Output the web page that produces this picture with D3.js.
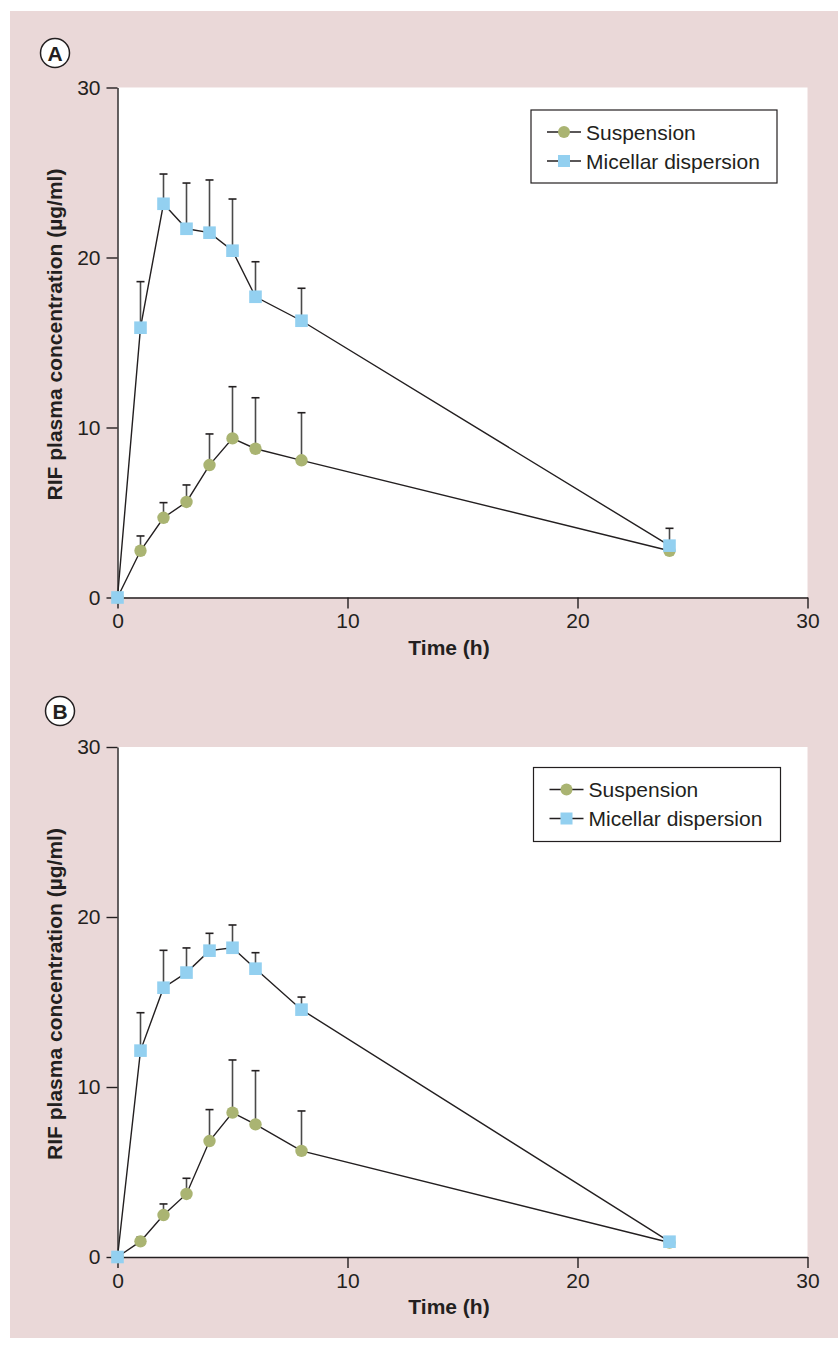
<!DOCTYPE html>
<html lang="en">
<head>
    <meta charset="UTF-8">
    <script src="https://d3js.org/d3.v7.min.js"></script>
    <title>RIF plasma concentration</title>
    <style>
        body {
            margin: 0;
            background: #ffffff;
            font-family: 'Liberation Sans', Arial, sans-serif;
        }
        text {
            fill: #231f20;
        }
        .tick text {
            font-size: 21px;
        }
        .axis-title {
            font-size: 21px;
            font-weight: bold;
        }
        .legend text {
            font-size: 21px;
        }
    </style>
</head>
<body>
    <svg width="838" height="1348"></svg>
    <script>
        // Data (mean and upper error, µg/ml)
        const times = [0, 1, 2, 3, 4, 5, 6, 8, 24];
        const seriesNames = ["Suspension", "Micellar dispersion"];
        const xTicks = [0, 10, 20, 30];
        const yTicks = [0, 10, 20, 30];

        const suspA = [0, 2.75, 4.69, 5.62, 7.79, 9.36, 8.75, 8.07, 2.75];
        const suspAErr = [0, 0.87, 0.89, 1.0, 1.83, 3.04, 3.0, 2.8, 0.5];
        const micA = [0, 15.87, 23.16, 21.69, 21.46, 20.40, 17.69, 16.28, 3.05];
        const micAErr = [0, 2.71, 1.75, 2.69, 3.10, 3.04, 2.06, 1.91, 1.02];

        const suspB = [0, 0.92, 2.47, 3.71, 6.82, 8.49, 7.80, 6.24, 0.85];
        const suspBErr = [0, 0.25, 0.65, 0.92, 1.85, 3.10, 3.16, 2.35, 0.2];
        const micB = [0, 12.14, 15.84, 16.73, 18.02, 18.19, 16.96, 14.55, 0.90];
        const micBErr = [0, 2.23, 2.20, 1.45, 1.02, 1.34, 0.94, 0.74, 0.2];

        const colors = { susp: "#aab472", mic: "#93d0f0", line: "#231f20", err: "#4a4a4a" };

        const svg = d3.select("svg");

        // pink page background
        svg.append("rect")
            .attr("x", 10).attr("y", 11)
            .attr("width", 828).attr("height", 1327)
            .attr("fill", "#ead8d8");

        const panels = [
            { label: "A", top: 87.5, susp: suspA, suspErr: suspAErr, mic: micA, micErr: micAErr,
              badge: [55, 53], legend: { x: 531, y: 110, w: 246, h: 73 } },
            { label: "B", top: 747, susp: suspB, suspErr: suspBErr, mic: micB, micErr: micBErr,
              badge: [60, 711], legend: { x: 533.5, y: 767.5, w: 247, h: 74 } }
        ];

        const left = 117.5, right = 807.5, plotH = 510;

        panels.forEach(p => {
            const g = svg.append("g");

            const x = d3.scaleLinear().domain([0, 30]).range([left, right]);
            const y = d3.scaleLinear().domain([0, 30]).range([p.top + plotH, p.top]);

            // white plot area
            g.append("rect")
                .attr("x", left).attr("y", p.top)
                .attr("width", right - left).attr("height", plotH)
                .attr("fill", "#ffffff");

            // axes
            const xAxis = g.append("g")
                .attr("transform", `translate(0,${y(0)})`)
                .call(d3.axisBottom(x).tickValues(xTicks).tickSize(11).tickSizeOuter(0).tickPadding(5));
            const yAxis = g.append("g")
                .attr("transform", `translate(${left},0)`)
                .call(d3.axisLeft(y).tickValues(yTicks).tickSize(11).tickSizeOuter(0).tickPadding(6));
            [xAxis, yAxis].forEach(a => {
                a.attr("font-family", null).attr("font-size", null);
                a.selectAll("path, line").attr("stroke", "#231f20").attr("stroke-width", 1.4);
            });

            // axis titles
            g.append("text")
                .attr("class", "axis-title")
                .attr("x", 449).attr("y", y(0) + 57)
                .attr("text-anchor", "middle")
                .text("Time (h)");
            g.append("text")
                .attr("class", "axis-title")
                .attr("transform", `translate(62,${p.top + 247}) rotate(-90)`)
                .attr("text-anchor", "middle")
                .text("RIF plasma concentration (\u00b5g/ml)");

            // panel badge
            g.append("circle")
                .attr("cx", p.badge[0]).attr("cy", p.badge[1]).attr("r", 14.5)
                .attr("fill", "#ffffff").attr("stroke", "#231f20").attr("stroke-width", 1.5);
            g.append("text")
                .attr("x", p.badge[0]).attr("y", p.badge[1] + 7.5)
                .attr("text-anchor", "middle")
                .attr("font-size", 21).attr("font-weight", "bold")
                .text(p.label);

            const series = [
                { key: "susp", vals: p.susp, err: p.suspErr },
                { key: "mic", vals: p.mic, err: p.micErr }
            ];

            const line = d3.line()
                .x(d => x(d.t))
                .y(d => y(d.v));

            series.forEach(s => {
                const pts = times.map((t, i) => ({ t, v: s.vals[i], e: s.err[i] }));
                s.pts = pts;
                g.append("path")
                    .datum(pts)
                    .attr("d", line)
                    .attr("fill", "none")
                    .attr("stroke", colors.line)
                    .attr("stroke-width", 1.4);
            });

            series.forEach(s => {
                const eb = g.append("g").selectAll("g")
                    .data(s.pts.filter(d => d.e > 0))
                    .join("g");
                eb.append("line")
                    .attr("x1", d => x(d.t)).attr("x2", d => x(d.t))
                    .attr("y1", d => y(d.v)).attr("y2", d => y(d.v + d.e))
                    .attr("stroke", colors.err).attr("stroke-width", 1.6);
                eb.append("line")
                    .attr("x1", d => x(d.t) - 4).attr("x2", d => x(d.t) + 4)
                    .attr("y1", d => y(d.v + d.e)).attr("y2", d => y(d.v + d.e))
                    .attr("stroke", "#231f20").attr("stroke-width", 1.6);
            });

            // markers: circles first, squares on top
            g.append("g").selectAll("circle")
                .data(series[0].pts)
                .join("circle")
                .attr("cx", d => x(d.t)).attr("cy", d => y(d.v))
                .attr("r", 6.2)
                .attr("fill", colors.susp);
            g.append("g").selectAll("rect")
                .data(series[1].pts)
                .join("rect")
                .attr("x", d => x(d.t) - 6.3).attr("y", d => y(d.v) - 6.3)
                .attr("width", 12.6).attr("height", 12.6)
                .attr("fill", colors.mic);

            // legend
            const L = p.legend;
            const lg = g.append("g").attr("class", "legend");
            lg.append("rect")
                .attr("x", L.x).attr("y", L.y)
                .attr("width", L.w).attr("height", L.h)
                .attr("fill", "#ffffff").attr("stroke", "#231f20").attr("stroke-width", 1.2);
            seriesNames.forEach((name, i) => {
                const cy = L.y + 22 + i * 29;
                const lx = L.x + 16;
                lg.append("line")
                    .attr("x1", lx).attr("x2", lx + 34)
                    .attr("y1", cy).attr("y2", cy)
                    .attr("stroke", colors.line).attr("stroke-width", 1.4);
                if (i === 0) {
                    lg.append("circle")
                        .attr("cx", lx + 17).attr("cy", cy).attr("r", 6)
                        .attr("fill", colors.susp);
                } else {
                    lg.append("rect")
                        .attr("x", lx + 11).attr("y", cy - 6)
                        .attr("width", 12).attr("height", 12)
                        .attr("fill", colors.mic);
                }
                lg.append("text")
                    .attr("x", lx + 39).attr("y", cy + 7.5)
                    .text(name);
            });
        });
    </script>
</body>
</html>
